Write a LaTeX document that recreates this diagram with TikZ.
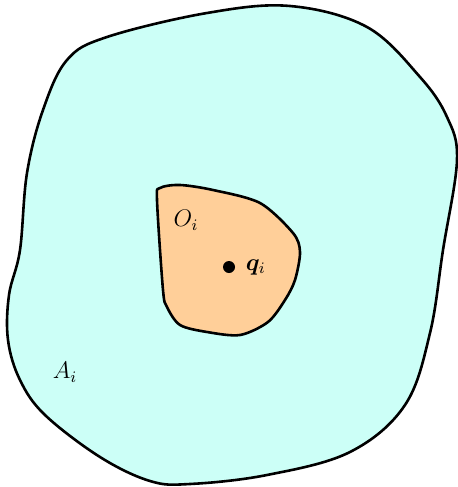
\documentclass[tikz,border=0pt]{standalone}
\usepackage{amsmath,amssymb,bm}
\usetikzlibrary{positioning}
\definecolor{rcyan}{HTML}{CCFFF7}
\definecolor{rorange}{HTML}{FFCF99}
\tikzset{
  region/.style={draw=black,line width=1.3pt,fill=rcyan,line join=round},
  obst/.style={draw=black,line width=1.3pt,fill=rorange,line join=round},
  lbl/.style={font=\fontsize{11.5}{13}\selectfont,inner sep=1pt},
  dot/.style={circle,fill=black,inner sep=0pt,minimum size=6pt},
}
\begin{document}
\begin{tikzpicture}[x=0.5pt,y=-0.5pt]
  \useasboundingbox (0,0) rectangle (457,487);
  % outer set A_i
  \draw[region] plot[smooth cycle,tension=0.6] coordinates {
    (290,6) (367,27) (420,77) (447,117) (457,160) (443,250)
    (430,333) (405,405) (350,452) (267,475) (190,484) (150,481) (100,457)
    (45,415) (20,380) (8,340) (9,295) (20,250) (27,173) (43,110) (67,60) (107,37) (207,13)};
  % inner set O_i
  \draw[obst] plot[smooth cycle,tension=0.5] coordinates {
    (160,188) (180,185) (213,190) (260,203) (293,233) (300,252)
    (295,280) (285,300) (268,322) (240,335) (207,332) (180,325) (167,307)
    (163,290) (157,200)};
  \node[dot] (q) at (229,267) {};
  \node[lbl,right=4pt of q] (qlbl) {$\boldsymbol{q}_i$};
  \node[lbl] (olbl) at (186,220) {$O_i$};
  \node[lbl] (albl) at (65,372) {$A_i$};
\end{tikzpicture}
\end{document}
